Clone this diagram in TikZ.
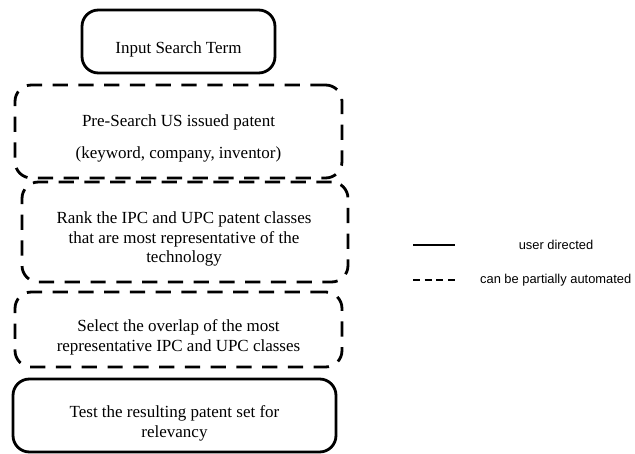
\documentclass[tikz,border=0pt]{standalone}
\usepackage{fontspec}
\setmainfont{Liberation Serif}
\newfontfamily\legendfont{Liberation Sans}
\usepackage{tikz}
\usetikzlibrary{
    calc,
    positioning
}
\tikzset{
    stage/.style={draw, rounded corners=14pt, line width=2.4pt, inner sep=0pt},
    autostage/.style={stage, dash pattern=on 13pt off 9pt},
    stagetext/.style={align=center, font=\fontsize{14.5}{17}\selectfont, inner sep=0pt},
    legendtext/.style={font=\legendfont\fontsize{11}{13}\selectfont, anchor=west}
}

\begin{document}
\begin{tikzpicture}[x=0.03cm, y=-0.03cm]
                            \useasboundingbox (0, 0) rectangle (635, 454);
                            \node[stage, minimum width=193*0.03cm, minimum height=63*0.03cm] (input) at (178.5, 41.5) {};
                            \node[autostage, minimum width=327*0.03cm, minimum height=93*0.03cm] (presearch) at (178.5, 131.5) {};
                            \node[autostage, minimum width=326*0.03cm, minimum height=100*0.03cm] (rank) at (185, 232) {};
                            \node[autostage, minimum width=327*0.03cm, minimum height=75*0.03cm] (overlap) at (178.5, 329.5) {};
                            \node[stage, minimum width=323*0.03cm, minimum height=73*0.03cm] (test) at (174.5, 415.5) {};
                            % texts sit a little below the box centres
                            \node[stagetext] (inputtext) at ($(input)+(0, 8)$) {Input Search Term};
                            \node[stagetext] (presearchtext) at ($(presearch)+(0, 7)$) {Pre-Search US issued patent\\[11pt](keyword, company, inventor)};
                            \node[stagetext] (ranktext) at ($(rank)+(-1, 7)$) {Rank the IPC and UPC patent classes\\that are most representative of the\\technology};
                            \node[stagetext] (overlaptext) at ($(overlap)+(0, 8)$) {Select the overlap of the most\\representative IPC and UPC classes};
                            \node[stagetext] (testtext) at ($(test)+(0, 8)$) {Test the resulting patent set for\\relevancy};
                            % legend
                            \coordinate (s1) at (413, 245);
                            \coordinate (s2) at (455, 245);
                            \coordinate (d1) at (413, 280);
                            \coordinate (d2) at (455, 280);
                            \draw[line width=2pt] (s1) -- (s2);
                            \draw[line width=2.2pt, dash pattern=on 6pt off 4pt] (d1) -- (d2);
                            \node[legendtext, anchor=center] (userlabel) at (556, 245) {user directed};
                            \node[legendtext] (autolabel) at (476, 280) {can be partially automated};
                        \end{tikzpicture}
\end{document}
